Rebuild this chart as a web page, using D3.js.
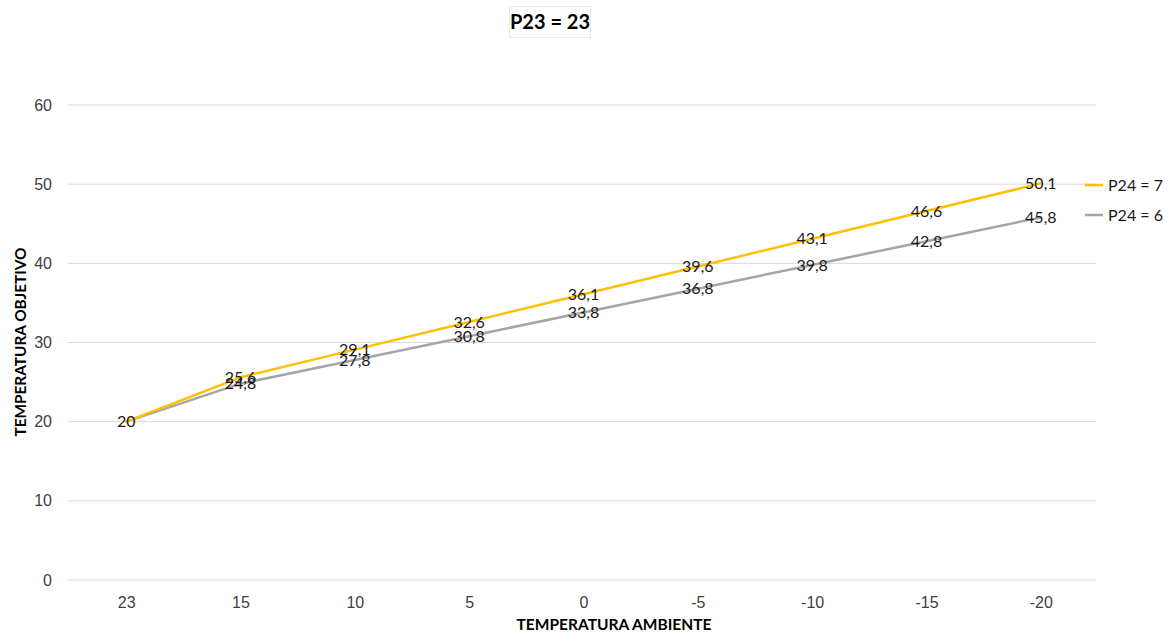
<!DOCTYPE html>
<html><head><meta charset="utf-8">
<script src="https://cdn.jsdelivr.net/npm/d3@7"></script>
<style>body{margin:0;background:#fff;}svg{display:block;font-family:Lato,"Open Sans","Noto Sans",sans-serif;}</style>
</head><body><svg id="c" width="1168" height="634"></svg>
<script>
const categories = ["23","15","10","5","0","-5","-10","-15","-20"];
const seriesNames = ["P24 = 7","P24 = 6"];
const seriesP24_7 = [20,25.6,29.1,32.6,36.1,39.6,43.1,46.6,50.1];
const seriesP24_6 = [20,24.8,27.8,30.8,33.8,36.8,39.8,42.8,45.8];
const yTicks = [0,10,20,30,40,50,60];
const colors = ["#FFC000","#A5A5A5"];
const title = "P23 = 23";
const xTitle = "TEMPERATURA AMBIENTE";
const yTitle = "TEMPERATURA OBJETIVO";

const svg = d3.select("#c");
const L = 69, R = 1098, T = 105, B = 580;
const x = d3.scalePoint().domain(categories).range([L, R]).padding(0.5);
const y = d3.scaleLinear().domain([0,60]).range([B, T]);
const fmt = v => String(v).replace(".", ",");

// gridlines
svg.append("g").selectAll("line").data(yTicks).join("line")
  .attr("x1", L-1).attr("x2", R-2).attr("y1", d=>y(d)).attr("y2", d=>y(d))
  .attr("stroke", "#D9D9D9").attr("stroke-width", 1);

// y axis
const ya = svg.append("g").attr("transform", `translate(${L},0)`)
  .call(d3.axisLeft(y).tickValues(yTicks).tickSize(0).tickPadding(17));
ya.select(".domain").remove();
ya.selectAll("text").attr("font-size", 16).attr("fill", "#404040").style("font-family","inherit");

// x axis
const xa = svg.append("g").attr("transform", `translate(0,${B})`)
  .call(d3.axisBottom(x).tickSize(0).tickPadding(17));
xa.select(".domain").remove();
xa.selectAll("text").attr("font-size", 16).attr("fill", "#404040").style("font-family","inherit");

// lines
const series = [seriesP24_7, seriesP24_6];
const line = d3.line().x((d,i)=>x(categories[i])).y(d=>y(d));
[1,0].forEach(s => {
  svg.append("path").datum(series[s]).attr("d", line)
    .attr("fill","none").attr("stroke", colors[s]).attr("stroke-width", 2.5)
    .attr("stroke-linejoin","round").attr("stroke-linecap","round");
});

// labels
[0,1].forEach(s => {
  const pts = series[s].map((v,i)=>({v, c: categories[i]})).filter((d,i)=> !(s===1 && i===0));
  svg.append("g").selectAll("text").data(pts).join("text")
    .attr("x",d=>x(d.c)).attr("y", d=>y(d.v))
    .attr("dy","0.35em").attr("text-anchor","middle")
    .attr("font-size",16).attr("fill","#1a1a1a").text(d=>fmt(d.v));
});

// legend
seriesNames.forEach((n,i) => {
  const ly = 185 + i*30;
  svg.append("line").attr("x1",1085).attr("x2",1103).attr("y1",ly).attr("y2",ly)
    .attr("stroke",colors[i]).attr("stroke-width",2.5);
  svg.append("text").attr("x",1108).attr("y",ly).attr("dy","0.35em")
    .attr("font-size",16).attr("fill","#1a1a1a").text(n);
});

// title
svg.append("rect").attr("x",509.5).attr("y",6.5).attr("width",81).attr("height",31)
  .attr("fill","#fff").attr("stroke","#E4E8F0");
svg.append("text").attr("x",550).attr("y",22).attr("dy","0.35em").attr("text-anchor","middle")
  .attr("font-size",20).attr("font-weight","bold").attr("fill","#000").text(title);

// axis titles
svg.append("text").attr("x",614).attr("y",630).attr("text-anchor","middle")
  .attr("font-size",16).attr("font-weight","bold").attr("fill","#000")
  .attr("textLength",195).attr("lengthAdjust","spacingAndGlyphs").text(xTitle);
svg.append("text").attr("transform","translate(26,342) rotate(-90)").attr("text-anchor","middle")
  .attr("font-size",16).attr("font-weight","bold").attr("fill","#000")
  .attr("textLength",189).attr("lengthAdjust","spacingAndGlyphs").text(yTitle);
</script></body></html>
